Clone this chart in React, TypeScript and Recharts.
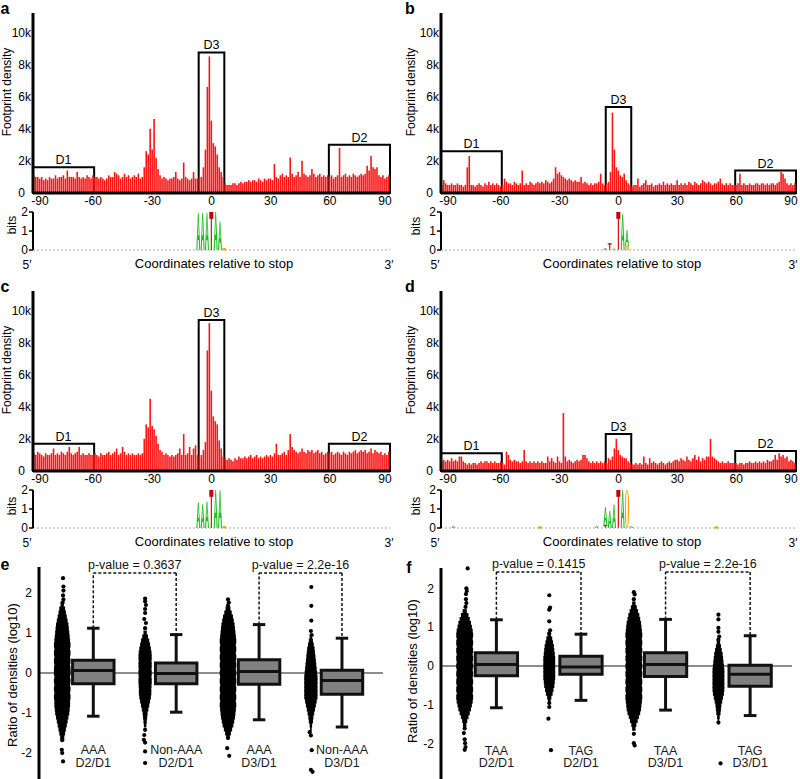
import React from 'react';
import { ComposedChart, Bar, Scatter, XAxis, YAxis, ReferenceArea, ReferenceLine } from 'recharts';

const FONT = '"Liberation Sans", Arial, Helvetica, sans-serif';
const BAR_RED = '#ff1414';
const LOGO_GREEN = '#22bb22';
const LOGO_RED = '#d40000';
const LOGO_ORANGE = '#ffa000';

// positions -90 .. 90 relative to the stop codon, footprint density in thousands
const POS_START = -90;
const X_TICKS = [-90, -60, -30, 0, 30, 60, 90];
const DENSITY_TICKS = [0, 2, 4, 6, 8, 10];

const DENSITY_A = [
  1.1, 1.0, 1.0, 0.9, 1.0, 0.8, 0.9, 0.8, 1.0, 0.9,
  0.9, 1.1, 0.9, 1.0, 1.0, 1.1, 0.9, 1.4, 1.0, 1.0,
  1.0, 0.9, 1.3, 1.0, 0.9, 1.0, 0.9, 1.1, 1.0, 0.9,
  1.1, 1.0, 1.0, 0.9, 1.0, 0.9, 0.8, 0.9, 1.1, 1.0,
  1.0, 1.3, 1.2, 1.1, 0.9, 1.0, 1.2, 1.0, 1.1, 0.9,
  1.0, 1.1, 1.0, 1.2, 0.9, 1.0, 1.6, 2.6, 2.4, 4.0,
  2.7, 4.6, 2.2, 1.5, 1.1, 0.9, 1.0, 0.9, 0.8, 0.9,
  0.9, 1.0, 1.3, 0.9, 0.8, 0.9, 1.9, 1.0, 0.9, 0.8,
  0.9, 1.3, 0.9, 0.9, 1.0, 1.0, 1.6, 2.7, 6.6, 8.5,
  4.5, 3.1, 2.9, 2.4, 1.6, 1.3, 1.0, 0.6, 0.5, 0.5,
  0.5, 0.6, 0.6, 0.5, 0.6, 0.7, 0.6, 0.7, 0.7, 0.8,
  0.7, 0.8, 0.8, 0.7, 0.9, 0.8, 0.7, 0.9, 0.8, 0.9,
  0.9, 0.8, 1.8, 1.0, 0.9, 1.1, 1.2, 1.0, 1.1, 1.0,
  2.2, 1.2, 1.0, 1.1, 1.3, 1.0, 2.0, 1.2, 1.1, 1.0,
  1.1, 1.5, 1.2, 1.0, 1.1, 1.2, 1.0, 1.1, 1.0, 1.1,
  1.0, 1.1, 0.9, 1.0, 1.1, 2.8, 1.0, 1.1, 1.2, 1.0,
  1.1, 1.0, 1.2, 1.1, 1.0, 1.1, 1.2, 1.1, 1.2, 1.7,
  1.4, 2.3, 1.6, 1.5, 1.6, 1.1, 1.0, 1.1, 0.9, 1.0,
  1.1,
];

const DENSITY_B = [
  0.5, 0.8, 0.6, 0.5, 0.5, 0.6, 0.5, 0.5, 0.6, 0.5,
  0.5, 0.4, 0.5, 1.6, 2.3, 0.5, 0.5, 0.4, 0.5, 0.6,
  0.5, 0.4, 0.6, 0.5, 0.7, 0.5, 0.6, 0.5, 0.6, 0.5,
  0.4, 0.5, 0.9, 0.7, 0.6, 0.6, 0.5, 0.7, 0.6, 0.5,
  0.6, 1.4, 0.5, 0.6, 0.5, 0.7, 0.6, 0.5, 0.6, 0.7,
  0.6, 0.7, 0.6, 0.8, 0.7, 0.6, 0.7, 0.9, 1.6, 1.2,
  1.3, 1.1, 1.0, 0.9, 0.8, 0.9, 0.8, 0.7, 0.8, 0.7,
  0.7, 1.0, 0.6, 0.7, 0.6, 0.5, 0.6, 0.5, 0.6, 0.6,
  0.7, 1.2, 0.6, 0.5, 0.6, 0.7, 1.3, 5.0, 2.7, 1.6,
  1.4, 1.1, 1.0, 1.2, 0.8, 0.6, 0.5, 0.4, 0.5, 0.5,
  0.9, 0.4, 0.5, 0.6, 0.8, 0.5, 0.5, 0.6, 0.4, 0.5,
  0.5, 0.6, 0.5, 0.7, 0.5, 0.6, 0.5, 0.6, 0.5, 0.5,
  0.8, 0.5, 0.6, 0.5, 0.6, 0.5, 0.7, 0.6, 0.5, 0.7,
  0.6, 0.5, 0.6, 0.8, 0.7, 0.6, 0.7, 0.6, 0.5, 0.6,
  0.6, 0.7, 0.9, 0.6, 0.5, 0.6, 0.5, 0.6, 0.5, 0.5,
  0.5, 0.6, 1.2, 0.5, 0.6, 0.5, 0.5, 0.6, 0.5, 0.5,
  0.6, 0.6, 0.5, 0.6, 0.6, 0.5, 0.6, 0.5, 0.6, 0.6,
  0.5, 0.6, 0.7, 1.3, 1.2, 0.9, 0.6, 0.5, 0.6, 0.5,
  0.6,
];

const DENSITY_C = [
  1.1, 1.0, 1.2, 1.1, 1.0, 0.9, 1.1, 1.0, 1.0, 1.1,
  1.4, 1.0, 1.1, 1.0, 1.2, 1.1, 1.0, 1.2, 1.5, 1.1,
  1.0, 1.1, 1.2, 1.5, 1.0, 1.1, 1.0, 1.0, 1.1, 1.0,
  1.0, 1.1, 1.0, 0.9, 1.1, 1.0, 1.0, 1.1, 1.2, 1.0,
  1.1, 1.2, 1.4, 1.0, 1.1, 1.5, 1.2, 1.0, 1.1, 1.0,
  1.1, 1.0, 1.0, 1.1, 1.0, 1.1, 2.0, 2.9, 2.7, 4.5,
  2.8, 2.6, 2.2, 1.7, 1.3, 1.2, 1.0, 1.1, 1.0, 0.9,
  1.0, 0.9, 1.0, 1.1, 1.4, 1.0, 2.3, 1.0, 1.1, 1.5,
  1.0, 1.4, 1.6, 1.0, 0.9, 1.0, 1.3, 1.8, 7.5, 9.2,
  5.0, 3.4, 3.1, 2.9, 1.9, 1.4, 0.9, 0.8, 0.7, 0.8,
  0.7, 0.6, 0.8, 0.7, 0.9, 0.8, 0.8, 0.9, 0.8, 0.9,
  1.0, 0.8, 0.9, 1.0, 0.8, 0.9, 0.8, 0.9, 1.0, 0.9,
  1.0, 0.9, 1.1, 1.7, 1.0, 1.0, 1.1, 1.2, 1.0, 1.3,
  2.3, 1.5, 1.3, 1.2, 1.1, 1.2, 1.4, 1.2, 1.1, 1.3,
  1.2, 1.3, 1.1, 1.2, 1.3, 1.1, 1.2, 1.0, 1.1, 1.2,
  1.1, 1.2, 1.0, 1.1, 1.2, 1.1, 1.0, 1.2, 1.1, 1.0,
  1.2, 1.1, 1.2, 1.3, 1.1, 1.2, 1.3, 1.2, 1.3, 1.1,
  1.2, 1.4, 1.1, 1.3, 1.2, 1.1, 1.2, 1.0, 1.1, 1.0,
  1.2,
];

const DENSITY_D = [
  0.6, 0.7, 0.6, 0.7, 0.6, 0.8, 0.6, 0.7, 0.6, 0.9,
  0.9, 0.6, 0.5, 0.4, 0.5, 0.4, 0.5, 0.5, 0.4, 0.5,
  0.6, 0.5, 0.6, 0.6, 0.5, 0.6, 0.5, 0.6, 0.5, 0.5,
  0.6, 0.5, 0.4, 1.2, 1.0, 0.7, 0.6, 0.7, 0.6, 0.6,
  0.5, 0.6, 1.3, 0.6, 0.5, 0.6, 0.5, 0.6, 0.5, 0.6,
  0.5, 0.6, 0.5, 0.5, 0.9, 0.6, 0.8, 0.6, 0.5, 0.9,
  0.6, 0.5, 3.6, 0.9, 0.6, 0.7, 0.6, 0.5, 0.6, 0.7,
  0.6, 0.7, 1.0, 1.0, 0.8, 0.6, 0.5, 0.6, 0.5, 0.6,
  0.5, 0.6, 0.5, 0.6, 0.5, 0.8, 0.7, 0.9, 1.4, 2.0,
  1.3, 1.0, 0.9, 0.8, 0.8, 0.6, 0.5, 0.4, 0.4, 0.5,
  0.4, 0.5, 0.4, 0.9, 0.5, 0.4, 0.8, 0.5, 0.6, 0.5,
  0.4, 0.5, 0.6, 0.5, 0.4, 0.5, 0.6, 0.5, 0.6, 0.7,
  0.7, 0.6, 0.8, 0.7, 0.6, 0.9, 0.7, 0.6, 0.8, 1.0,
  0.7, 0.9, 0.6, 0.8, 0.7, 0.9, 0.9, 2.0, 0.9, 0.8,
  0.7, 0.6, 0.5, 0.6, 0.5, 0.5, 0.6, 0.5, 0.5, 0.5,
  0.5, 0.4, 0.5, 0.5, 0.4, 0.5, 0.5, 0.6, 0.5, 0.5,
  0.6, 0.5, 0.6, 0.5, 0.6, 0.5, 0.7, 0.6, 0.6, 0.7,
  1.0, 0.7, 1.1, 0.9, 1.0, 0.8, 0.9, 0.6, 0.7, 0.6,
  0.5,
];

// boxed regions D1, D2, D3 and their heights (thousands) per panel
const REGION_NAMES = ['D1', 'D2', 'D3'];
const REGION_SPANS = [[-90.5, -59.5], [59.5, 90.5], [-6.5, 6.5]];
const REGION_TOPS_A = [1.6, 3.0, 8.75];
const REGION_TOPS_B = [2.6, 1.4, 5.35];
const REGION_TOPS_C = [1.7, 1.7, 9.4];
const REGION_TOPS_D = [1.1, 1.25, 2.3];

// sequence logos: [position, base, from bits, to bits]
const LOGO_A = [
  [-6.6, 'A', 0, 1.95], [-4.4, 'A', 0, 1.95], [-2.2, 'A', 0, 1.95], [0, 'T', 0, 2.0],
  [2.2, 'A', 0, 2.0], [4.4, 'A', 0, 1.5], [6.6, 'G', 0, 0.08],
];
const LOGO_B = [
  [-6.6, 'A', 0, 0.1], [-4.4, 'T', 0, 0.35], [-2.2, 'A', 0, 0.08], [0, 'T', 0, 2.0],
  [2.2, 'A', 0, 1.9], [4.4, 'G', 0, 0.2], [4.4, 'A', 0.2, 1.05],
];
const LOGO_C = [
  [-6.6, 'A', 0, 1.35], [-4.4, 'A', 0, 1.25], [-2.2, 'A', 0, 1.4], [0, 'T', 0, 2.0],
  [2.2, 'A', 0, 2.0], [4.4, 'A', 0, 2.0], [6.6, 'G', 0, 0.08],
];
const LOGO_D = [
  [-84, 'A', 0, 0.12], [-40, 'G', 0, 0.06], [-11, 'A', 0, 0.1], [-6.6, 'T', 0, 0.15],
  [-6.6, 'A', 0.15, 1.1], [-4.4, 'A', 0, 0.9], [-2.2, 'A', 0, 1.25], [0, 'T', 0, 2.0],
  [2.2, 'A', 0, 2.0], [4.4, 'G', 0, 2.0], [6.6, 'A', 0, 0.1], [50, 'G', 0, 0.06],
];

// ratio panels: swarm bands (log10 ratio levels) and half-widths per group
const SWARM_LEVELS = [1.7, 1.6, 1.5, 1.4, 1.3, 1.2, 1.1, 1.0, 0.9, 0.8, 0.7, 0.6, 0.5, 0.4, 0.3, 0.2, 0.1, 0,
  -0.1, -0.2, -0.3, -0.4, -0.5, -0.6, -0.7, -0.8, -0.9, -1.0, -1.1, -1.2, -1.3, -1.4, -1.5, -1.6, -1.7];
const SWARM_X = [0.56, 2.56, 4.56, 6.56];
const BOX_X = [1.31, 3.31, 5.31, 7.31];

const E_W1 = [0.04, 0.07, 0.09, 0.11, 0.13, 0.15, 0.16, 0.17, 0.18, 0.19, 0.2, 0.19, 0.2, 0.19, 0.2, 0.19, 0.2, 0.2,
  0.19, 0.2, 0.19, 0.2, 0.19, 0.2, 0.19, 0.19, 0.18, 0.17, 0.15, 0.13, 0.11, 0.09, 0.07, 0.05, 0];
const E_W2 = [0, 0, 0, 0, 0, 0, 0, 0.04, 0.07, 0.1, 0.12, 0.14, 0.155, 0.16, 0.155, 0.16, 0.155, 0.16,
  0.155, 0.16, 0.155, 0.15, 0.15, 0.14, 0.12, 0.1, 0.08, 0.06, 0.05, 0.04, 0.03, 0, 0, 0, 0];
const E_W3 = [0.03, 0.06, 0.09, 0.12, 0.14, 0.16, 0.17, 0.18, 0.19, 0.2, 0.19, 0.2, 0.19, 0.2, 0.19, 0.2, 0.19, 0.2,
  0.19, 0.2, 0.19, 0.2, 0.19, 0.2, 0.19, 0.2, 0.19, 0.18, 0.17, 0.15, 0.13, 0.1, 0.07, 0.04, 0];
const E_W4 = [0, 0, 0, 0, 0, 0, 0, 0, 0.03, 0.05, 0.07, 0.09, 0.1, 0.11, 0.12, 0.13, 0.14, 0.15,
  0.16, 0.16, 0.16, 0.16, 0.16, 0.16, 0.14, 0.12, 0.1, 0.08, 0.06, 0.05, 0.03, 0.02, 0, 0, 0];
const F_W1 = [0, 0, 0, 0.05, 0.09, 0.12, 0.15, 0.17, 0.19, 0.2, 0.19, 0.2, 0.19, 0.2, 0.19, 0.2, 0.19, 0.2,
  0.19, 0.2, 0.19, 0.2, 0.19, 0.2, 0.19, 0.2, 0.19, 0.17, 0.15, 0.12, 0.09, 0.06, 0.04, 0, 0];
const F_W2 = [0, 0, 0, 0, 0, 0, 0, 0, 0, 0.04, 0.07, 0.09, 0.11, 0.12, 0.13, 0.14, 0.14, 0.14,
  0.14, 0.14, 0.14, 0.13, 0.12, 0.1, 0.08, 0.05, 0.03, 0, 0, 0, 0, 0, 0, 0, 0];
const F_W3 = [0, 0.04, 0.07, 0.1, 0.13, 0.15, 0.17, 0.18, 0.19, 0.2, 0.19, 0.2, 0.19, 0.2, 0.19, 0.2, 0.19, 0.2,
  0.19, 0.2, 0.19, 0.2, 0.19, 0.2, 0.19, 0.2, 0.19, 0.18, 0.17, 0.15, 0.12, 0.09, 0.06, 0.04, 0];
const F_W4 = [0, 0, 0, 0, 0, 0, 0, 0, 0, 0, 0, 0.04, 0.06, 0.08, 0.1, 0.11, 0.12, 0.13,
  0.14, 0.14, 0.14, 0.14, 0.14, 0.14, 0.13, 0.11, 0.09, 0.07, 0.06, 0.05, 0.03, 0.02, 0, 0, 0];

// single outlying points: [group, x offset, log10 ratio]
const E_DOTS = [
  [0, 0.02, 2.37], [0, 0.03, 2.16], [0, 0.03, 2.06], [0, 0.02, 1.94], [0, 0.03, 1.84], [0, 0.01, 1.76],
  [0, 0, -1.68], [0, -0.01, -1.92], [0, 0, -2.0], [0, 0.02, -2.21],
  [1, 0, 1.86], [1, 0, 1.79], [1, 0.02, 1.7], [1, 0, 1.6], [1, 0, 1.5], [1, -0.02, 1.35], [1, 0.02, 1.25], [1, 0, 1.12],
  [1, 0, -1.42], [1, -0.02, -1.55], [1, -0.03, -1.67], [1, 0, -1.74], [1, 0, -1.96], [1, 0, -2.25],
  [2, 0, 1.84], [2, 0.02, 1.76], [2, 0, 1.68], [2, 0, -1.62], [2, -0.02, -1.88], [2, 0.03, -2.07],
  [3, 0.01, 2.15], [3, 0.01, 1.68], [3, 0.01, 1.31], [3, 0, 1.05], [3, 0.02, 0.95],
  [3, -0.03, -1.48], [3, 0, -1.56], [3, 0.02, -1.93], [3, 0, -2.42], [3, 0.04, -2.47],
];
const F_DOTS = [
  [0, 0.07, 2.51], [0, 0.04, 2.0], [0, 0.05, 1.93], [0, 0.03, 1.85], [0, 0.03, 1.72], [0, 0.04, 1.62], [0, 0.02, 1.52],
  [0, 0, -1.6], [0, -0.02, -1.72], [0, 0, -1.88], [0, 0.01, -1.98], [0, 0.02, -2.08], [0, 0, -2.15],
  [1, 0, 1.82], [1, 0.02, 1.5], [1, 0, 1.45], [1, 0, 1.15], [1, 0.02, 0.92], [1, 0, 0.84],
  [1, 0, -0.95], [1, 0, -1.05], [1, -0.02, -1.35], [1, 0.04, -2.16],
  [2, 0, 1.9], [2, 0.02, 1.84], [2, 0, 1.72], [2, 0, -1.74], [2, 0, -1.98], [2, 0.02, -2.04],
  [3, 0, 1.32], [3, 0, 1.2], [3, 0, 0.98], [3, 0, 0.88], [3, 0.02, 0.76], [3, 0, 0.68],
  [3, 0, -1.45], [3, 0.05, -2.5],
];

// box plot statistics (log10 ratio)
const E_HI = [1.12, 0.96, 1.21, 0.87];
const E_Q3 = [0.32, 0.25, 0.33, 0.07];
const E_MED = [0.06, -0.01, 0.04, -0.19];
const E_Q1 = [-0.27, -0.27, -0.28, -0.53];
const E_LO = [-1.08, -0.98, -1.17, -1.35];
const F_HI = [1.19, 0.82, 1.2, 0.78];
const F_Q3 = [0.34, 0.25, 0.34, 0.02];
const F_MED = [0.04, -0.02, 0.04, -0.21];
const F_Q1 = [-0.25, -0.21, -0.27, -0.52];
const F_LO = [-1.07, -0.88, -1.13, -1.27];

const E_CATS = [['AAA', 'D2/D1'], ['Non-AAA', 'D2/D1'], ['AAA', 'D3/D1'], ['Non-AAA', 'D3/D1']];
const F_CATS = [['TAA', 'D2/D1'], ['TAG', 'D2/D1'], ['TAA', 'D3/D1'], ['TAG', 'D3/D1']];
const E_PVALUES = ['p-value = 0.3637', 'p-value = 2.2e-16'];
const F_PVALUES = ['p-value = 0.1415', 'p-value = 2.2e-16'];
const PAIRS = [[0, 1], [2, 3]];
const RATIO_TICKS = [-2, -1, 0, 1, 2];

const TICK = { fill: '#000', fontSize: 12 };
const AXIS = { stroke: '#000', strokeWidth: 3 };

// end labels sit a little inside the axis, like the original figure
const XTick = (p: any) => {
  const v = p.payload.value;
  const dx = v === -90 ? 6 : v === 90 ? -4 : 0;
  return (
    <text x={p.x + dx} y={p.y} dy="0.71em" textAnchor="middle" fontSize={12} fill="#000">{v}</text>
  );
};
const KTick = (p: any) => {
  const v = p.payload.value;
  return (
    <text x={p.x - (v === 0 ? 6 : 0)} y={p.y} dy="0.355em" textAnchor="end" fontSize={12} fill="#000">
      {v === 0 ? '0' : `${v}k`}
    </text>
  );
};

const LetterShape = (props: any) => {
  const { x, width, payload } = props;
  const h = Math.abs(props.height || 0);
  if (h < 0.5) return <g />;
  const y = props.height < 0 ? props.y + props.height : props.y;
  const w = width;
  if (payload.base === 'A') {
    const d = `M${x},${y + h} L${x + w * 0.4},${y} L${x + w * 0.6},${y} L${x + w},${y + h} L${x + w * 0.72},${y + h} ` +
      `L${x + w * 0.64},${y + h * 0.74} L${x + w * 0.36},${y + h * 0.74} L${x + w * 0.28},${y + h} Z ` +
      `M${x + w * 0.4},${y + h * 0.6} L${x + w * 0.5},${y + h * 0.14} L${x + w * 0.6},${y + h * 0.6} Z`;
    return <path d={d} fill={LOGO_GREEN} fillRule="evenodd" />;
  }
  if (payload.base === 'T') {
    return (
      <g>
        <rect x={x} y={y} width={w} height={Math.max(h * 0.18, 1)} fill="#b80000" />
        <rect x={x + w * 0.36} y={y} width={w * 0.28} height={h} fill={LOGO_RED} />
      </g>
    );
  }
  return <ellipse cx={x + w / 2} cy={y + h / 2} rx={w / 2 - 0.5} ry={Math.max(h / 2 - 0.5, 0.6)} fill="none" stroke={LOGO_ORANGE} strokeWidth={1.2} />;
};

const DotShape = (p: any) => <circle cx={p.cx} cy={p.cy} r={2.1} fill="#000" />;
const TextShape = (p: any) => (
  <text x={p.cx} y={p.cy} textAnchor="middle" dominantBaseline="central" fontSize={12.5} fill="#1a1a1a">
    {p.payload.t}
  </text>
);

const DensityChart = ({ values, tops, axisW, right }: any) => {
  const data = values.map((v: number, i: number) => ({ pos: POS_START + i, v }));
  return (
    <ComposedChart width={400} height={210} data={data} margin={{ top: 13, right, bottom: 0, left: 0 }}>
      <XAxis dataKey="pos" type="number" domain={[-90.5, 90.5]} ticks={X_TICKS} interval={0} height={17}
        tickLine={false} tickSize={0} tickMargin={3} axisLine={AXIS} tick={XTick} />
      <YAxis type="number" domain={[0, 11.2]} ticks={DENSITY_TICKS} interval={0} width={axisW}
        tickLine={false} tickSize={0} tickMargin={2} axisLine={AXIS} tick={KTick} />
      <Bar dataKey="v" fill={BAR_RED} barSize={1.6} isAnimationActive={false} />
      {REGION_NAMES.map((name, i) => (
        <ReferenceArea key={name} x1={REGION_SPANS[i][0]} x2={REGION_SPANS[i][1]} y1={0} y2={tops[i]}
          fill="none" fillOpacity={0} stroke="#000" strokeWidth={2} ifOverflow="visible"
          label={{ value: name, position: 'top', offset: 3, fill: '#000', fontSize: 12.5 }} />
      ))}
    </ComposedChart>
  );
};

const LogoChart = ({ letters, axisW, right }: any) => {
  const data = letters.map(([pos, base, from, to]: any) => ({ pos, base, range: [from, to] }));
  return (
    <ComposedChart width={400} height={56} data={data} margin={{ top: 7, right, bottom: 11, left: 0 }}>
      <XAxis dataKey="pos" type="number" domain={[-90.5, 90.5]} hide />
      <YAxis type="number" domain={[0, 2]} ticks={[0, 1, 2]} interval={0} width={axisW} tickSize={4} tickMargin={1}
        tickLine={{ stroke: '#000', strokeWidth: 1.5 }} axisLine={{ stroke: '#000', strokeWidth: 2 }} tick={TICK} />
      <ReferenceLine y={0} stroke="#aaa" strokeDasharray="2 2" />
      <Bar dataKey="range" barSize={4} shape={LetterShape} isAnimationActive={false} />
    </ComposedChart>
  );
};

const RatioChart = ({ height, right, axisW, domain, widths, dots, hi, q3, med, q1, lo, cats, catY, pvalues, bracketY }: any) => {
  const dotData = dots.map(([g, dx, y]: number[]) => ({ x: SWARM_X[g] + dx, y }));
  const labelData = cats.flatMap((c: string[], i: number) => c.map((t, j) => ({ x: BOX_X[i], y: catY[j], t })));
  const line = { stroke: '#111', strokeWidth: 3, ifOverflow: 'visible' as const };
  const dash = { stroke: '#111', strokeWidth: 1.5, strokeDasharray: '3 2', ifOverflow: 'visible' as const };
  return (
    <ComposedChart width={400} height={height} margin={{ top: 12, right, bottom: 0, left: 0 }}>
      <XAxis dataKey="x" type="number" domain={[0, 8.3]} hide />
      <YAxis dataKey="y" type="number" domain={domain} ticks={RATIO_TICKS} interval={0} width={axisW}
        tickLine={false} tickSize={0} tickMargin={7} axisLine={AXIS} tick={TICK} />
      <ReferenceLine y={0} stroke="#666" strokeWidth={1.5} zIndex={50} />
      {widths.flatMap((ws: number[], g: number) =>
        SWARM_LEVELS.map((lv, i) =>
          ws[i] > 0 ? (
            <ReferenceArea key={`s${g}-${i}`} x1={SWARM_X[g] - ws[i]} x2={SWARM_X[g] + ws[i]} y1={lv - 0.062} y2={lv + 0.062}
              fill="#000" fillOpacity={1} stroke="none" ifOverflow="visible" />
          ) : null
        )
      )}
      {BOX_X.map((bx, i) => (
        <ReferenceArea key={`b${i}`} x1={bx - 0.5} x2={bx + 0.5} y1={q1[i]} y2={q3[i]}
          fill="#808080" fillOpacity={1} stroke="#111" strokeWidth={3} ifOverflow="visible" />
      ))}
      {BOX_X.map((bx, i) => (
        <React.Fragment key={`w${i}`}>
          <ReferenceLine segment={[{ x: bx, y: q3[i] }, { x: bx, y: hi[i] }]} {...line} />
          <ReferenceLine segment={[{ x: bx - 0.15, y: hi[i] }, { x: bx + 0.15, y: hi[i] }]} {...line} />
          <ReferenceLine segment={[{ x: bx, y: q1[i] }, { x: bx, y: lo[i] }]} {...line} />
          <ReferenceLine segment={[{ x: bx - 0.15, y: lo[i] }, { x: bx + 0.15, y: lo[i] }]} {...line} />
          <ReferenceLine segment={[{ x: bx - 0.5, y: med[i] }, { x: bx + 0.5, y: med[i] }]} {...line} />
        </React.Fragment>
      ))}
      {PAIRS.map(([a, b], k) => (
        <React.Fragment key={`p${k}`}>
          <ReferenceLine segment={[{ x: BOX_X[a], y: hi[a] }, { x: BOX_X[a], y: bracketY }]} {...dash} />
          <ReferenceLine segment={[{ x: BOX_X[a], y: bracketY }, { x: BOX_X[b], y: bracketY }]} {...dash}
            label={{ value: pvalues[k], position: 'top', offset: 4, fill: '#111', fontSize: 12.5 }} />
          <ReferenceLine segment={[{ x: BOX_X[b], y: bracketY }, { x: BOX_X[b], y: hi[b] }]} {...dash} />
        </React.Fragment>
      ))}
      <Scatter data={dotData} shape={DotShape} isAnimationActive={false} />
      <Scatter data={labelData} shape={TextShape} isAnimationActive={false} />
    </ComposedChart>
  );
};

const Place = ({ left, top, children }: any) => (
  <div style={{ position: 'absolute', left, top }}>{children}</div>
);

const Txt = ({ x, y, children, rotate, bold, size = 12 }: any) => (
  <div style={{
    position: 'absolute', left: x, top: y, whiteSpace: 'nowrap', fontSize: size, lineHeight: 1,
    fontWeight: bold ? 'bold' : 'normal',
    transform: `translate(-50%, -50%)${rotate ? ' rotate(-90deg)' : ''}`,
  }}>
    {children}
  </div>
);

const StopAxisText = ({ dx, dy, left5, right3, mid }: any) => (
  <>
    <Txt x={dx + left5} y={dy + 2} size={12}>5′</Txt>
    <Txt x={dx + mid} y={dy} size={13}>Coordinates relative to stop</Txt>
    <Txt x={dx + right3} y={dy + 2} size={12}>3′</Txt>
  </>
);

export default function App() {
  return (
    <div style={{ position: 'absolute', left: 0, top: 0, width: 800, height: 779, background: '#fff', fontFamily: FONT, color: '#000', overflow: 'hidden' }}>
      <Place left={0} top={0}><DensityChart values={DENSITY_A} tops={REGION_TOPS_A} axisW={33} right={10} /></Place>
      <Place left={400} top={0}><DensityChart values={DENSITY_B} tops={REGION_TOPS_B} axisW={41} right={4} /></Place>
      <Place left={0} top={278}><DensityChart values={DENSITY_C} tops={REGION_TOPS_C} axisW={33} right={10} /></Place>
      <Place left={400} top={278}><DensityChart values={DENSITY_D} tops={REGION_TOPS_D} axisW={41} right={4} /></Place>

      <Place left={0} top={205}><LogoChart letters={LOGO_A} axisW={33} right={10} /></Place>
      <Place left={400} top={205}><LogoChart letters={LOGO_B} axisW={41} right={4} /></Place>
      <Place left={0} top={483}><LogoChart letters={LOGO_C} axisW={33} right={10} /></Place>
      <Place left={400} top={483}><LogoChart letters={LOGO_D} axisW={41} right={4} /></Place>

      <Place left={0} top={555}>
        <RatioChart height={224} right={17} axisW={39} domain={[-2.65, 2.65]} widths={[E_W1, E_W2, E_W3, E_W4]}
          dots={E_DOTS} hi={E_HI} q3={E_Q3} med={E_MED} q1={E_Q1} lo={E_LO} cats={E_CATS} catY={[-1.93, -2.25]}
          pvalues={E_PVALUES} bracketY={2.5} />
      </Place>
      <Place left={400} top={556}>
        <RatioChart height={223} right={8} axisW={41} domain={[-2.9, 2.52]} widths={[F_W1, F_W2, F_W3, F_W4]}
          dots={F_DOTS} hi={F_HI} q3={F_Q3} med={F_MED} q1={F_Q1} lo={F_LO} cats={F_CATS} catY={[-2.17, -2.5]}
          pvalues={F_PVALUES} bracketY={2.42} />
      </Place>

      <Txt x={5} y={9} bold size={16}>a</Txt>
      <Txt x={410} y={9} bold size={16}>b</Txt>
      <Txt x={5} y={287} bold size={16}>c</Txt>
      <Txt x={410} y={287} bold size={16}>d</Txt>
      <Txt x={5} y={565} bold size={16}>e</Txt>
      <Txt x={409} y={568} bold size={16}>f</Txt>

      <Txt x={7} y={92} rotate>Footprint density</Txt>
      <Txt x={411} y={92} rotate>Footprint density</Txt>
      <Txt x={7} y={370} rotate>Footprint density</Txt>
      <Txt x={411} y={370} rotate>Footprint density</Txt>
      <Txt x={12} y={225} rotate>bits</Txt>
      <Txt x={416} y={226} rotate>bits</Txt>
      <Txt x={12} y={506} rotate>bits</Txt>
      <Txt x={416} y={506} rotate>bits</Txt>
      <Txt x={12} y={675} rotate size={13}>Ratio of densities (log10)</Txt>
      <Txt x={412} y={671} rotate size={13}>Ratio of densities (log10)</Txt>

      <StopAxisText dx={0} dy={263} left5={27} mid={214} right3={389} />
      <StopAxisText dx={400} dy={263} left5={35} mid={222} right3={393} />
      <StopAxisText dx={0} dy={541} left5={27} mid={214} right3={389} />
      <StopAxisText dx={400} dy={541} left5={35} mid={222} right3={393} />
    </div>
  );
}
